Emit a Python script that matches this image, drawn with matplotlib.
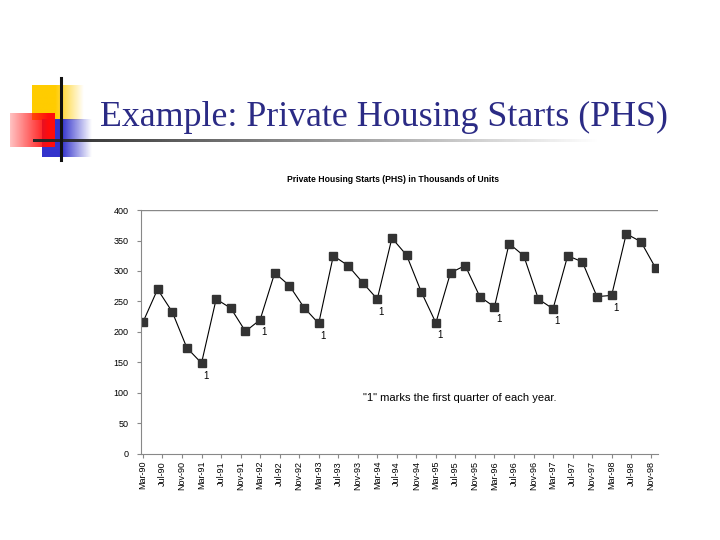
import numpy as np
import matplotlib.pyplot as plt

# quarterly private housing starts, thousands of units, Q1-1990 .. Q4-1998
phs = [216, 270, 233, 174, 149, 254, 239, 201, 220, 297, 276, 240,
       214, 325, 309, 281, 254, 354, 326, 266, 215, 297, 309, 258,
       241, 345, 325, 254, 238, 325, 315, 258, 260, 361, 348, 305]
first_q = [4, 8, 12, 16, 20, 24, 28, 32]   # points flagged with "1"

years = ['90', '91', '92', '93', '94', '95', '96', '97', '98']
months = ['Mar', 'Jul', 'Nov']
tick_labels = [m + '-' + y for y in years for m in months]

# x in months since Mar-90: points every 3 months, labels every 4
x_pts = np.arange(len(phs)) * 3
x_ticks = np.arange(len(tick_labels)) * 4

fig = plt.figure(figsize=(7.2, 5.4), dpi=100)

# slide decoration
bg = fig.add_axes([0, 0, 1, 1])
bg.set_axis_off()

def grad_box(ax, x0, x1, y0, y1, rgb, a_left, a_right, solid_frac=0.0):
    n = 200
    t = np.linspace(0, 1, n)
    if a_left > a_right:
        a = np.where(t < solid_frac, a_left,
                     a_left + (a_right - a_left) * (t - solid_frac) / (1 - solid_frac))
    else:
        a = np.where(t > 1 - solid_frac, a_right,
                     a_left + (a_right - a_left) * t / (1 - solid_frac))
    img = np.zeros((1, n, 4))
    img[0, :, :3] = rgb
    img[0, :, 3] = np.clip(a, 0, 1)
    ax.imshow(img, extent=(x0, x1, y1, y0), aspect='auto', interpolation='bilinear')

grad_box(bg, 32, 84, 85, 120, (1.0, 0.8, 0.0), 1.0, 0.0, 0.45)
grad_box(bg, 42, 92, 119, 157, (0.2, 0.2, 0.8), 1.0, 0.0, 0.4)
grad_box(bg, 10, 55, 113, 147, (1.0, 0.05, 0.05), 0.25, 1.0, 0.15)

# fading rule under the title
n = 300
strip = np.zeros((1, n, 4))
strip[0, :, :3] = 0.15
strip[0, :, 3] = np.linspace(1.0, 0.0, n)
bg.imshow(strip, extent=(33, 600, 142.5, 139.5), aspect='auto', interpolation='bilinear')
bg.plot([61, 61], [78, 160], color='#111111', lw=2.2)
bg.set_xlim(0, 720)
bg.set_ylim(540, 0)

bg.text(100, 117, 'Example: Private Housing Starts (PHS)', family='Liberation Serif',
        fontsize=25.8, color='#2B2B85', va='center', ha='left')

# chart
ax = fig.add_axes([0.1958, 0.1593, 0.7181, 0.4518])
ax.plot(x_pts, phs, color='black', lw=0.8, marker='s', markersize=5.3,
        markerfacecolor='#333333', markeredgecolor='#333333')
for i in first_q:
    ax.annotate('1', (x_pts[i], phs[i]), xytext=(3, -9), textcoords='offset points',
                ha='center', va='center', fontsize=7, family='Liberation Sans')

ax.set_xlim(-0.4, 105.5)
ax.set_ylim(0, 400)
ax.set_yticks(np.arange(0, 401, 50))
ax.set_xticks(x_ticks)
ax.set_xticklabels(tick_labels, rotation=90, fontsize=6.5, family='Liberation Sans')
ax.tick_params(axis='y', labelsize=6.5, length=3, color='#888888', pad=6)
ax.tick_params(axis='x', length=3, color='#888888', pad=2)
for lab in ax.get_yticklabels():
    lab.set_family('Liberation Sans')
for s in ['top', 'right']:
    ax.spines[s].set_visible(False)
for s in ['left', 'bottom']:
    ax.spines[s].set_color('#888888')
ax.axhline(400, color='#888888', lw=1)

ax.text(45.1, 92, '"1" marks the first quarter of each year.', fontsize=8,
        family='Liberation Sans', va='center', ha='left')

fig.text(0.546, 0.667, 'Private Housing Starts (PHS) in Thousands of Units',
         fontsize=6.2, fontweight='bold', family='Liberation Sans', ha='center', va='center')

fig.savefig('out.png', dpi=100)
